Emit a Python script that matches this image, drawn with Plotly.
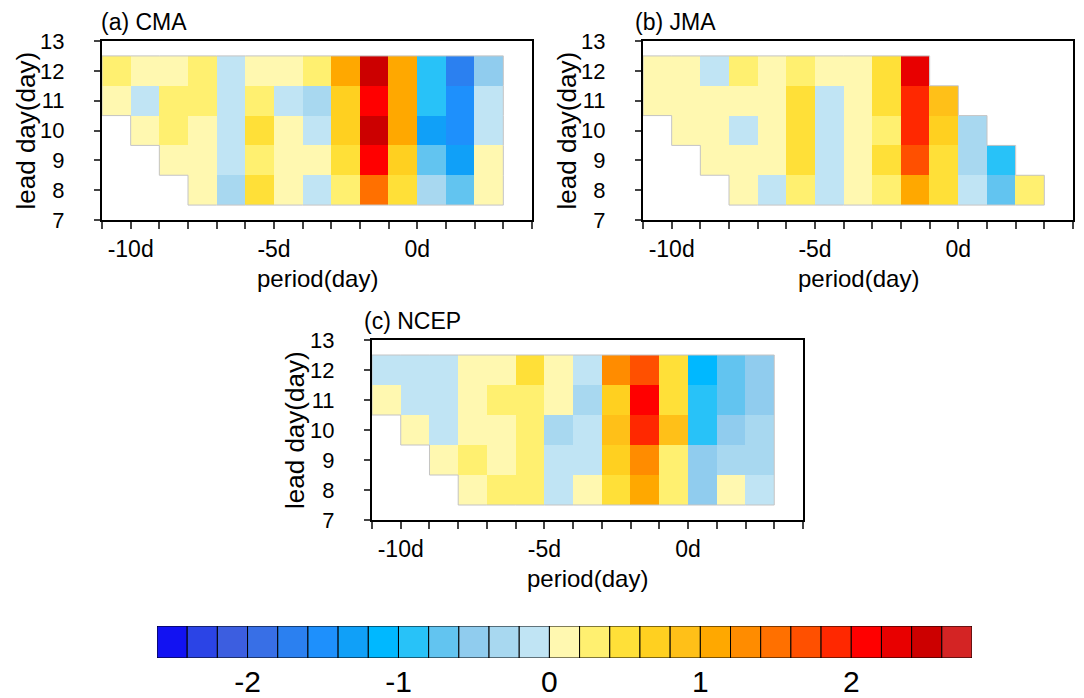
import numpy as np
import plotly.graph_objects as go

# ---------------- data ----------------
period_edges = list(range(-11, 4))          # cell edges along period axis (14 cells)
lead_days = [8, 9, 10, 11, 12]
nan = float("nan")

cma = [
    [nan, nan, nan, 0.1, -0.3, 0.5, 0.1, -0.1, 0.3, 1.5, 0.5, -0.3, -0.7, 0.1],   # lead 8
    [nan, nan, 0.1, 0.1, -0.1, 0.3, 0.1, 0.1, 0.5, 2.1, 0.7, -0.7, -1.3, 0.1],    # lead 9
    [nan, 0.1, 0.3, 0.1, -0.1, 0.5, 0.1, -0.1, 0.7, 2.5, 1.1, -1.3, -1.5, -0.1],  # lead 10
    [0.1, -0.1, 0.3, 0.3, -0.1, 0.3, -0.1, -0.3, 0.7, 2.1, 1.1, -0.9, -1.5, -0.1],# lead 11
    [0.3, 0.1, 0.1, 0.3, -0.1, 0.1, 0.1, 0.3, 1.1, 2.5, 1.1, -0.9, -1.7, -0.5],   # lead 12
]
jma = [
    [nan, nan, nan, 0.1, -0.1, 0.3, -0.1, 0.1, 0.3, 1.1, 0.5, -0.1, -0.7, 0.3],
    [nan, nan, 0.1, 0.1, 0.1, 0.5, -0.1, 0.1, 0.5, 1.7, 0.5, -0.3, -0.9, nan],
    [nan, 0.1, 0.1, -0.1, 0.1, 0.5, -0.1, 0.1, 0.3, 1.9, 0.7, -0.3, nan, nan],
    [0.1, 0.1, 0.1, 0.1, 0.1, 0.5, -0.1, 0.1, 0.5, 1.9, 0.9, nan, nan, nan],
    [0.1, 0.1, -0.1, 0.3, 0.1, 0.3, 0.1, 0.1, 0.5, 2.3, nan, nan, nan, nan],
]
ncep = [
    [nan, nan, nan, 0.1, 0.3, 0.3, -0.1, 0.1, 0.5, 1.1, 0.3, -0.5, 0.1, -0.1],
    [nan, nan, 0.1, 0.3, 0.1, 0.3, -0.1, -0.1, 0.7, 1.3, 0.3, -0.5, -0.3, -0.3],
    [nan, 0.1, -0.1, 0.1, 0.1, 0.3, -0.3, -0.1, 0.9, 1.9, 0.9, -0.9, -0.5, -0.3],
    [0.1, -0.1, -0.1, 0.1, 0.3, 0.3, 0.1, -0.3, 0.7, 2.1, 0.5, -0.9, -0.7, -0.5],
    [-0.1, -0.1, -0.1, 0.1, 0.1, 0.5, 0.1, -0.1, 1.3, 1.7, 0.5, -1.1, -0.7, -0.5],
]
panel_titles = ["(a) CMA", "(b) JMA", "(c) NCEP"]

# colour levels: 27 boxes of width 0.2 from -2.6 to 2.8
level_min, level_step, n_levels = -2.6, 0.2, 27
level_colors = [
    "#1212f2", "#2b44e6", "#3c5ee0", "#386fe6", "#2b80f0", "#1e90fc", "#10a0f8",
    "#00b8ff", "#28c2f8", "#62c4f0", "#90ccee", "#a8d8f0", "#c0e4f4",
    "#fff8b0", "#fff070", "#ffe038", "#ffd020", "#ffc018", "#ffa800", "#ff8c00",
    "#ff7000", "#ff5000", "#ff2800", "#ff0000", "#e80000", "#cc0000", "#d42424",
]
cb_ticks = [-2, -1, 0, 1, 2]
x_major = {-10: "-10d", -5: "-5d", 0: "0d"}

# ---------------- helpers ----------------
level_edges = [round(level_min + i * level_step, 2) for i in range(n_levels + 1)]
zmin, zmax = level_edges[0], level_edges[-1]
colorscale = []
for i, c in enumerate(level_colors):
    colorscale.append([i / n_levels, c])
    colorscale.append([(i + 1) / n_levels, c])


def outline(z):
    """Boundary of the non-missing region, derived from the data mask."""
    arr = np.array(z, dtype=float)
    ok = ~np.isnan(arr)
    nr, nc = arr.shape
    xs, ys = [], []
    for r in range(nr):
        for c in range(nc):
            if not ok[r, c]:
                continue
            x0, x1 = period_edges[c], period_edges[c + 1]
            y0, y1 = lead_days[r] - 0.5, lead_days[r] + 0.5
            if r == 0 or not ok[r - 1, c]:
                xs += [x0, x1, None]; ys += [y0, y0, None]
            if r == nr - 1 or not ok[r + 1, c]:
                xs += [x0, x1, None]; ys += [y1, y1, None]
            if c == 0 or not ok[r, c - 1]:
                xs += [x0, x0, None]; ys += [y0, y1, None]
            if c == nc - 1 or not ok[r, c + 1]:
                xs += [x1, x1, None]; ys += [y0, y1, None]
    return xs, ys


W, H = 1084, 698
FONT = "Liberation Sans, Arial, Helvetica, sans-serif"

# panel frames in pixels: (left, right, top, bottom)
frames = [(102, 532, 41, 220), (643, 1073, 41, 220), (372, 803, 340, 520)]
title_x = [99, 633, 362]

fig = go.Figure()
layout = dict(width=W, height=H, margin=dict(l=0, r=0, t=0, b=0, autoexpand=False),
              paper_bgcolor="white", plot_bgcolor="white", showlegend=False,
              font=dict(family=FONT, color="black"))
annotations = []

for k, (z, title) in enumerate(zip([cma, jma, ncep], panel_titles)):
    sfx = "" if k == 0 else str(k + 1)
    xa, ya = "x" + sfx, "y" + sfx
    fig.add_trace(go.Heatmap(x=period_edges, y=lead_days, z=z, colorscale=colorscale,
                             zmin=zmin, zmax=zmax, showscale=False,
                             xaxis=xa, yaxis=ya, hoverongaps=False))
    ox, oy = outline(z)
    fig.add_trace(go.Scatter(x=ox, y=oy, mode="lines", line=dict(color="#c4c4c4", width=1),
                             xaxis=xa, yaxis=ya, hoverinfo="skip"))
    l, r, t, b = frames[k]
    xdom = [l / W, r / W]
    ydom = [1 - b / H, 1 - t / H]
    tickvals = list(range(-11, 5))
    layout["xaxis" + sfx] = dict(
        domain=xdom, anchor=ya, range=[-11, 4], tickmode="array", tickvals=tickvals,
        ticktext=[x_major.get(v, "") for v in tickvals], ticks="outside", ticklen=7,
        tickwidth=1.5, showline=True, linewidth=2, linecolor="black", mirror=True,
        showgrid=False, zeroline=False, tickfont=dict(size=23), ticklabelstandoff=0,
        automargin=False)
    layout["yaxis" + sfx] = dict(
        domain=ydom, anchor=xa, range=[7, 13], tickmode="array", tickvals=list(range(7, 14)),
        ticks="outside", ticklen=6, tickwidth=1.5, showline=True, linewidth=2,
        linecolor="black", mirror=True, showgrid=False, zeroline=False,
        tickfont=dict(size=22), ticklabelstandoff=25, automargin=False)
    annotations.append(dict(text=title, xref="paper", yref="paper", x=title_x[k] / W,
                            y=1 - (t - 19) / H, xanchor="left", yanchor="middle",
                            showarrow=False, font=dict(size=23)))
    annotations.append(dict(text="period(day)", xref="paper", yref="paper",
                            x=(l + r) / 2 / W, y=1 - (b + 58) / H, xanchor="center",
                            yanchor="middle", showarrow=False, font=dict(size=24)))
    annotations.append(dict(text="lead day(day)", xref="paper", yref="paper",
                            x=(l - 77) / W, y=1 - (t + b) / 2 / H, xanchor="center",
                            yanchor="middle", textangle=-90, showarrow=False,
                            font=dict(size=26)))

# colour bar drawn as boxed bars
fig.add_trace(go.Bar(x=[level_step] * n_levels, base=level_edges[:-1], y=[0] * n_levels,
                     orientation="h", width=1, marker=dict(color=level_colors,
                     line=dict(color="black", width=1)), xaxis="x4", yaxis="y4",
                     hoverinfo="skip"))
layout["xaxis4"] = dict(domain=[157 / W, 972 / W], anchor="y4", range=[zmin, zmax],
                        tickmode="array", tickvals=cb_ticks, ticktext=[str(v) for v in cb_ticks],
                        ticks="", showline=False, showgrid=False, zeroline=False,
                        tickfont=dict(size=30), ticklabelstandoff=3, automargin=False)
layout["yaxis4"] = dict(domain=[1 - 658 / H, 1 - 626 / H], anchor="x4", range=[-0.5, 0.5],
                        showticklabels=False, ticks="", showline=False, showgrid=False,
                        zeroline=False, automargin=False)
layout["annotations"] = annotations
fig.update_layout(**layout)
fig.write_html("out.html", config={"displayModeBar": False},
               post_script="document.body.style.margin='0';document.body.style.overflow='hidden';")
